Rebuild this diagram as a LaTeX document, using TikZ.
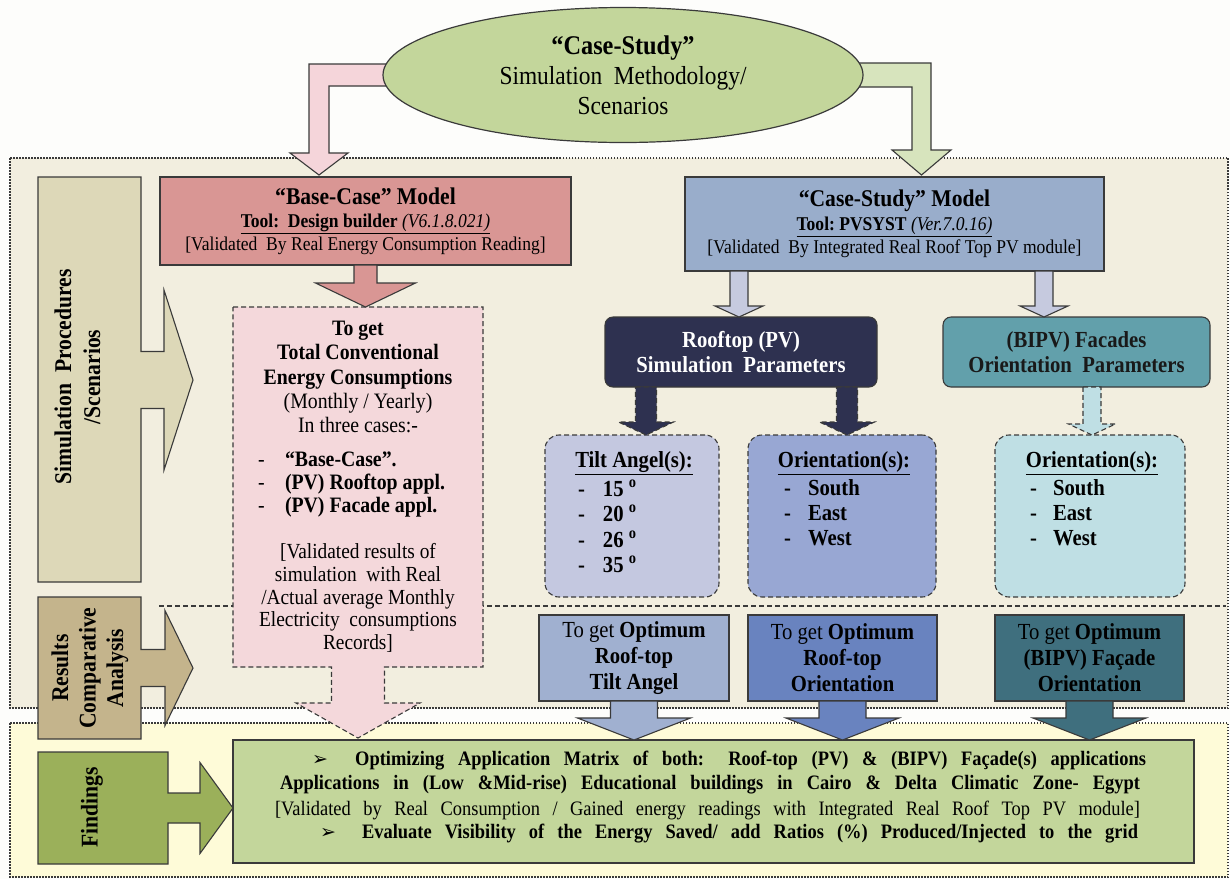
\documentclass[tikz,border=0pt]{standalone}
\usepackage{fontspec}
\setmainfont{Liberation Serif}[FakeStretch=0.9]
\newfontfamily\dejavu{DejaVu Sans}
\usetikzlibrary{calc,shapes.geometric}
\pgfdeclarelayer{fg}
\pgfsetlayers{main,fg}
\definecolor{bgw}{HTML}{FDFDFB}
\definecolor{upper}{HTML}{F2EEDF}
\definecolor{lower}{HTML}{FEFBD8}
\definecolor{ellg}{HTML}{C3D69B}
\definecolor{garrow}{HTML}{D7E4BD}
\definecolor{parrow}{HTML}{F5D5DA}
\definecolor{basec}{HTML}{D99694}
\definecolor{pinkbox}{HTML}{F4D8DB}
\definecolor{casec}{HTML}{99ADCB}
\definecolor{lav}{HTML}{C6CADF}
\definecolor{navy}{HTML}{2E3150}
\definecolor{tealc}{HTML}{62A0AB}
\definecolor{tiltc}{HTML}{C4C8E0}
\definecolor{orc}{HTML}{98A7D3}
\definecolor{borc}{HTML}{BFDFE4}
\definecolor{ob1}{HTML}{A0B0D0}
\definecolor{ob2}{HTML}{6983BF}
\definecolor{ob3}{HTML}{3F6F7E}
\definecolor{findc}{HTML}{C3D69B}
\definecolor{simc}{HTML}{DDD8B8}
\definecolor{resc}{HTML}{C4B48C}
\definecolor{fndc}{HTML}{9BB05A}
\definecolor{edge}{HTML}{3A3A3A}
\newcommand\fs[2]{\fontsize{#1pt}{#2pt}\selectfont}
% block arrow pointing down: style, from node, to node, x, shaft half, head half, head length
\newcommand\downarr[7]{%
 \path[#1] let \p1=(#2.south), \p2=(#3.north) in
 ({#4pt-#5pt},\y1) -- ({#4pt+#5pt},\y1) -- ({#4pt+#5pt},\y2+#7pt) -- ({#4pt+#6pt},\y2+#7pt)
 -- (#4pt,\y2) -- ({#4pt-#6pt},\y2+#7pt) -- ({#4pt-#5pt},\y2+#7pt) -- cycle;}
% label box merged with a right block arrow: style, label node, tip coordinate, shaft half, head half, head length
\newcommand\labarr[6]{%
 \path[#1] let \p1=(#2.north west), \p2=(#2.south east), \p3=(#3) in
 (\x1,\y1) -- (\x2,\y1) -- (\x2,\y3+#4pt) -- (\x3-#6pt,\y3+#4pt) -- (\x3-#6pt,\y3+#5pt) -- (\x3,\y3)
 -- (\x3-#6pt,\y3-#5pt) -- (\x3-#6pt,\y3-#4pt) -- (\x2,\y3-#4pt) -- (\x2,\y2) -- (\x1,\y2) -- cycle;}
\begin{document}
\begin{tikzpicture}[x=1pt,y=-1pt,
  every node/.style={inner sep=0pt,outer sep=0pt},
  bx/.style={draw=edge,line width=1.1pt},
  dsh/.style={draw=edge,line width=1.1pt,dash pattern=on 5pt off 3pt},
  dbox/.style={dsh,rounded corners=14pt},
  panel/.style={draw=edge,line width=1.5pt,dash pattern=on 1.5pt off 1.5pt}]
\useasboundingbox (0,0) rectangle (1230,879);
\fill[bgw] (0,0) rectangle (1230,879);
% panels
\draw[panel,fill=upper] (10,158) rectangle (1228,708);
\draw[panel,fill=lower] (10,723) rectangle (1228,877);
\coordinate (sepL) at (159,606);
\coordinate (sepR) at (1226,606);
\draw[dsh] (sepL) -- (sepR);

% ellipse on top layer
\begin{pgfonlayer}{fg}
\node[ellipse,draw=edge,line width=1.2pt,fill=ellg,minimum width=480pt,minimum height=135pt,
  align=center,font=\fs{26}{30}] (cs) at (623,75)
  {{\fs{27}{30}\bfseries “Case-Study”}\\Simulation\ \ Methodology/\\Scenarios};
\end{pgfonlayer}

% model boxes
\node[bx,fill=basec,minimum width=411pt,minimum height=88pt,align=center,font=\fs{19.5}{23}] (base) at (365.5,221)
  {{\fs{24}{23}\bfseries “Base-Case” Model}\\\underline{\textbf{Tool:\ \ Design builder} \textit{(V6.1.8.021)}}\\{[}Validated\ \ By Real Energy Consumption Reading{]}};
\node[bx,fill=casec,minimum width=419pt,minimum height=94pt,align=center,font=\fs{19.5}{23.5}] (case) at (894.5,224)
  {{\fs{24}{23.5}\bfseries “Case-Study” Model}\\\underline{\textbf{Tool:\ PVSYST} \textit{(Ver.7.0.16)}}\\{[}Validated\ \ By Integrated Real Roof Top PV module{]}};

% bent arrows from the ellipse
\path[bx,fill=parrow] let \p1=(cs.west), \p2=(base.north) in
 (\x1+25pt,\y1+11pt) -- (309pt,\y1+11pt) -- (309pt,\y2+24pt) -- (290pt,\y2+24pt) -- (319pt,\y2+2pt)
 -- (348pt,\y2+24pt) -- (329pt,\y2+24pt) -- (329pt,\y1-11pt) -- (\x1+25pt,\y1-11pt) -- cycle;
\path[bx,fill=garrow] let \p1=(cs.east), \p2=(case.north) in
 (\x1-25pt,\y1+12pt) -- (931pt,\y1+12pt) -- (931pt,\y2+27pt) -- (951pt,\y2+27pt) -- (921.5pt,\y2+2pt)
 -- (892pt,\y2+27pt) -- (912pt,\y2+27pt) -- (912pt,\y1-12pt) -- (\x1-25pt,\y1-12pt) -- cycle;

% findings box
\node[bx,fill=findc,minimum width=961pt,minimum height=123pt] (find) at (713.5,801.5) {};

% pink box merged with its dashed arrow
\node[minimum width=250pt,minimum height=360pt] (pk) at (358,487) {};
\path[dsh,fill=pinkbox] let \p1=(pk.north west), \p2=(pk.south east), \p3=(pk.south |- find.north) in
 (\x1,\y1) -- (\x2,\y1) -- (\x2,\y2) -- (\x3+26.5pt,\y2) -- (\x3+26.5pt,\y3+37pt) -- (\x3+62pt,\y3+37pt)
 -- (\x3,\y3+2pt) -- (\x3-62pt,\y3+37pt) -- (\x3-26.5pt,\y3+37pt) -- (\x3-26.5pt,\y2) -- (\x1,\y2) -- cycle;
\downarr{bx,fill=basec}{base}{pk}{365.5}{11.5}{50}{24}

% parameter boxes
\node[bx,rounded corners=8pt,fill=navy,text=white,minimum width=272pt,minimum height=70pt,align=center,
  font=\fs{23}{25}\bfseries] (roof) at (741,352) {Rooftop (PV)\\Simulation\ \ Parameters};
\node[bx,rounded corners=8pt,fill=tealc,text=black!90,minimum width=267pt,minimum height=70pt,align=center,
  font=\fs{23}{25}\bfseries] (bipv) at (1076.5,352) {(BIPV)\ Facades\\Orientation\ \ Parameters};
\downarr{bx,fill=lav}{case}{roof}{739}{9}{24}{11}
\downarr{bx,fill=lav}{case}{bipv}{1044}{9}{24}{11}

\node[dbox,fill=tiltc,minimum width=174pt,minimum height=162pt] (tilt) at (632,516) {};
\node[dbox,fill=orc,minimum width=188pt,minimum height=162pt] (orient) at (842,516) {};
\node[dbox,fill=borc,minimum width=190pt,minimum height=162pt] (bor) at (1090,516) {};
\downarr{dsh,fill=navy}{roof}{tilt}{646}{10.5}{27.5}{13}
\downarr{dsh,fill=navy}{roof}{orient}{847}{10.5}{27.5}{13}
\downarr{dsh,fill=borc}{bipv}{bor}{1092}{9}{23.5}{11}

\node[font=\fs{23}{25}\bfseries] (tiltt) at (634,463) {\underline{Tilt Angel(s):}};
\node[anchor=west,align=left,font=\fs{23}{25.5}\bfseries] (tilti) at (578,526.5)
  {\makebox[25pt][l]{-}15 \textsuperscript{o}\\\makebox[25pt][l]{-}20 \textsuperscript{o}\\\makebox[25pt][l]{-}26 \textsuperscript{o}\\\makebox[25pt][l]{-}35 \textsuperscript{o}};
\node[font=\fs{23}{25}\bfseries] (ort) at (844,463) {\underline{Orientation(s):}};
\node[anchor=west,align=left,font=\fs{23}{25}\bfseries] (ori) at (784,513)
  {\makebox[24pt][l]{-}South\\\makebox[24pt][l]{-}East\\\makebox[24pt][l]{-}West};
\node[font=\fs{23}{25}\bfseries] (bort) at (1092,463) {\underline{Orientation(s):}};
\node[anchor=west,align=left,font=\fs{23}{25}\bfseries] (bori) at (1030,513)
  {\makebox[23pt][l]{-}South\\\makebox[23pt][l]{-}East\\\makebox[23pt][l]{-}West};

% optimum boxes
\node[bx,fill=ob1,minimum width=190pt,minimum height=86pt,align=center,font=\fs{23}{26}] (o1) at (634,658)
  {To get \textbf{Optimum}\\\textbf{Roof-top}\\\textbf{Tilt Angel}};
\node[bx,fill=ob2,minimum width=189pt,minimum height=86pt,align=center,font=\fs{23}{26}] (o2) at (842.5,658)
  {To get \textbf{Optimum}\\\textbf{Roof-top}\\\textbf{Orientation}};
\node[bx,fill=ob3,minimum width=189pt,minimum height=86pt,align=center,font=\fs{23}{26}] (o3) at (1089.5,658)
  {To get \textbf{Optimum}\\\textbf{(BIPV) Façade}\\\textbf{Orientation}};
\downarr{bx,fill=ob1}{o1}{find}{634}{23.5}{56.5}{22}
\downarr{bx,fill=ob2}{o2}{find}{842.5}{23.5}{56.5}{22}
\downarr{bx,fill=ob3}{o3}{find}{1089.5}{23.5}{56.5}{22}

% left labels
\node[minimum width=103pt,minimum height=405pt] (sim) at (89.5,379.5) {};
\coordinate (simtip) at (193,380);
\labarr{bx,fill=simc}{sim}{simtip}{28.5}{90}{29}
\node[minimum width=103pt,minimum height=142pt] (res) at (89.5,668) {};
\coordinate (restip) at (193,668);
\labarr{bx,fill=resc}{res}{restip}{18.5}{57.5}{28}
\node[minimum width=130pt,minimum height=112pt] (fnd) at (103,808) {};
\coordinate (fndtip) at (233,808);
\labarr{bx,fill=fndc}{fnd}{fndtip}{15}{45.5}{33}
\node[rotate=90,align=center,font=\fs{24}{29}\bfseries] (simt) at (77.5,377) {Simulation\ \ Procedures\\/Scenarios};
\node[rotate=90,align=center,font=\fs{24}{27.5}\bfseries] (rest) at (90,668) {Results\\Comparative\\Analysis};
\node[rotate=90,font=\fs{24}{29}\bfseries] (fndt) at (92,807) {Findings};

% pink box texts
\node[align=center,font=\fs{22}{24.3}] (pka) at (358,377)
  {\textbf{To get}\\\textbf{Total Conventional}\\\textbf{Energy Consumptions}\\(Monthly / Yearly)\\In three cases:-};
\node[anchor=west,align=left,font=\fs{22}{23}\bfseries] (pkb) at (258,485)
  {\makebox[27pt][l]{\mdseries -}“Base-Case”.\\\makebox[27pt][l]{\mdseries -}(PV) Rooftop appl.\\\makebox[27pt][l]{\mdseries -}(PV) Facade appl.};
\node[align=center,font=\fs{21.5}{22.8}] (pkc) at (358,598)
  {{[}Validated results of\\simulation\ \ with Real\\/Actual average Monthly\\Electricity\ \ consumptions\\Records{]}};

% findings texts
\node[font=\fs{20.5}{24}\bfseries] (f1) at (729,761)
  {\makebox[834pt][s]{{\dejavu\fs{19}{24}➢}\ \ Optimizing Application Matrix of both: Roof-top (PV) \& (BIPV) Façade(s) applications}};
\node[font=\fs{20.5}{24}\bfseries] (f2) at (710,785)
  {\makebox[860pt][s]{Applications in (Low \&Mid-rise) Educational buildings in Cairo \& Delta Climatic Zone- Egypt}};
\node[font=\fs{20.5}{24}] (f3) at (707.5,810)
  {\makebox[865pt][s]{{[}Validated by Real Consumption / Gained energy readings with Integrated Real Roof Top PV module{]}}};
\node[font=\fs{20.5}{24}\bfseries] (f4) at (729,834)
  {\makebox[818pt][s]{{\dejavu\fs{19}{24}➢}\ \ Evaluate Visibility of the Energy Saved/ add Ratios (\%) Produced/Injected to the grid}};
\end{tikzpicture}
\end{document}
